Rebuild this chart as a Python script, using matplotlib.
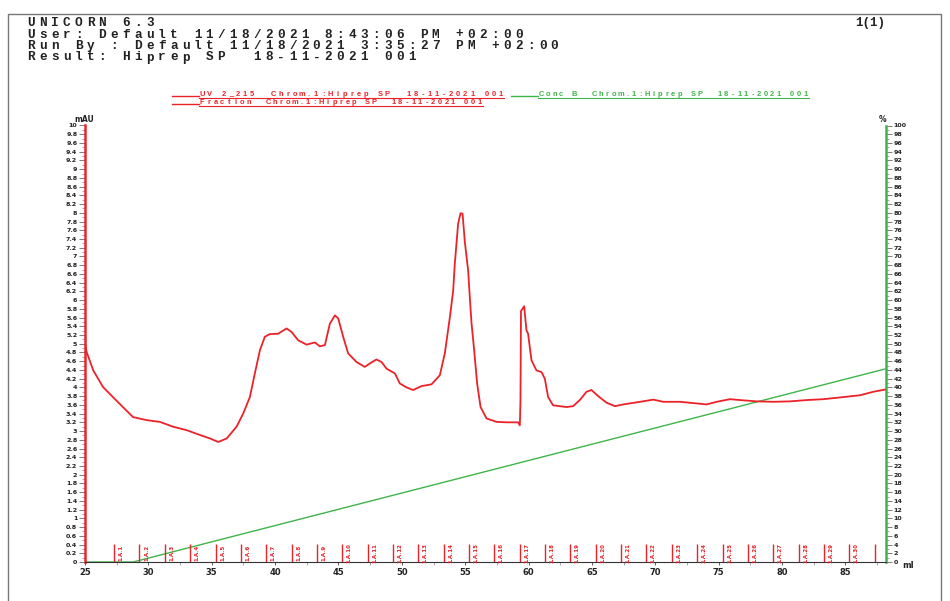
import numpy as np
import matplotlib.pyplot as plt
from matplotlib.ticker import MultipleLocator, FuncFormatter

plt.rcParams['font.weight'] = 'bold'

# UV 2_215 trace (ml, mAU)
uv_ml = [25.0, 25.13, 25.65, 26.42, 27.20, 27.99, 28.79, 29.87, 30.91, 31.94,
         33.02, 34.07, 34.86, 35.51, 36.18, 36.96, 37.48, 38.01, 38.40, 38.80,
         39.19, 39.58, 40.24, 40.91, 41.30, 41.82, 42.48, 43.14, 43.53, 43.93,
         44.32, 44.72, 44.98, 45.37, 45.76, 46.43, 47.08, 47.48, 48.00, 48.40,
         48.79, 49.45, 49.84, 50.37, 50.89, 51.55, 52.34, 53.00, 53.39, 53.79,
         54.05, 54.18, 54.44, 54.63, 54.79, 54.97, 55.23, 55.36, 55.50, 55.68,
         55.94, 56.21, 56.68, 57.47, 58.26, 59.17, 59.31, 59.36, 59.40, 59.52,
         59.65, 59.83, 59.96, 60.23, 60.62, 61.02, 61.28, 61.54, 61.93, 62.98,
         63.51, 64.04, 64.57, 64.96, 65.49, 66.15, 66.81, 67.47, 68.79, 69.84,
         70.63, 71.97, 72.99, 74.05, 74.84, 75.89, 76.68, 78.00, 79.31, 80.63,
         81.95, 83.26, 84.57, 86.15, 87.20, 88.12]
uv_mau = [5.01, 4.81, 4.39, 4.01, 3.78, 3.55, 3.32, 3.25, 3.21, 3.10,
          3.02, 2.91, 2.83, 2.75, 2.83, 3.10, 3.40, 3.78, 4.32, 4.85,
          5.16, 5.22, 5.23, 5.35, 5.27, 5.08, 4.98, 5.03, 4.94, 4.97,
          5.46, 5.65, 5.58, 5.16, 4.78, 4.58, 4.47, 4.55, 4.64, 4.58,
          4.43, 4.32, 4.09, 4.00, 3.94, 4.03, 4.07, 4.28, 4.78, 5.61,
          6.22, 6.84, 7.75, 7.99, 7.98, 7.33, 6.68, 6.07, 5.46, 4.93,
          4.09, 3.55, 3.29, 3.21, 3.20, 3.20, 3.13, 3.71, 5.75, 5.80,
          5.86, 5.31, 5.23, 4.62, 4.39, 4.35, 4.20, 3.78, 3.59, 3.55,
          3.57, 3.71, 3.90, 3.94, 3.80, 3.65, 3.57, 3.61, 3.67, 3.72,
          3.67, 3.67, 3.64, 3.61, 3.67, 3.73, 3.71, 3.68, 3.67, 3.68,
          3.71, 3.73, 3.77, 3.82, 3.90, 3.95]

# Conc B gradient (ml, %)
conc_ml = [25.0, 28.8, 88.1]
conc_b = [0.0, 0.0, 44.2]

# fraction boundaries (ml)
frac_ml = [27.3, 29.3, 31.3, 33.3, 35.3, 37.3, 39.3, 41.3, 43.3, 45.3,
           47.3, 49.3, 51.3, 53.3, 55.3, 57.3, 59.3, 61.3, 63.3, 65.3,
           67.3, 69.3, 71.3, 73.3, 75.3, 77.3, 79.3, 81.3, 83.3, 85.3, 87.3]
frac_labels = ['1.A.%d' % (i + 1) for i in range(len(frac_ml) - 1)]

header = ['UNICORN 6.3',
          'User: Default 11/18/2021 8:43:06 PM +02:00',
          'Run By : Default 11/18/2021 3:35:27 PM +02:00',
          'Result: Hiprep SP  18-11-2021 001']

RED = '#ec2228'
GREEN = '#3fb44a'
W, H = 950, 601

fig = plt.figure(figsize=(9.5, 6.01), dpi=100)
page = fig.add_axes([0, 0, 1, 1])
page.set_xlim(0, W)
page.set_ylim(H, 0)
page.axis('off')


def grid_text(x, y, s, pitch, **kw):
    # fixed pitch text, one character per cell
    for i, ch in enumerate(s):
        if ch != ' ':
            page.text(x + i * pitch + pitch / 2, y, ch, ha='center', va='center', **kw)


# page frame
page.plot([8, 8, 941, 941], [601, 14, 14, 601], color='#777777', lw=1)

for i, line in enumerate(header):
    grid_text(25, 23 + i * 11.5, line, 11.9, family='Liberation Mono',
              fontsize=9.2, color='#222222')
page.text(885, 23, '1(1)', ha='right', va='center', family='Liberation Mono',
          fontsize=9, color='#222222')

# legend
legend_rows = [(172, 94.5, 'UV 2_215  Chrom.1:Hiprep SP  18-11-2021 001', RED, 7.1),
               (172, 102.5, 'Fraction  Chrom.1:Hiprep SP  18-11-2021 001', RED, 6.6),
               (511, 94.5, 'Conc B  Chrom.1:Hiprep SP  18-11-2021 001', GREEN, 6.6)]
for x0, y0, txt, col, pitch in legend_rows:
    page.plot([x0, x0 + 27], [y0 + 1.5, y0 + 1.5], color=col, lw=1)
    grid_text(x0 + 27, y0, txt, pitch, family='Liberation Sans', fontsize=5.4, color=col)
    page.plot([x0 + 27, x0 + 27 + pitch * len(txt)], [y0 + 3.6, y0 + 3.6], color=col, lw=0.8)

# chromatogram
ax = fig.add_axes([85 / W, 1 - 562 / H, 801 / W, (562 - 125.5) / H])
ax2 = ax.twinx()
ax.set_zorder(2)
ax.patch.set_visible(False)

ax2.plot(conc_ml, conc_b, color=GREEN, lw=1.0)
ax2.set_ylim(0, 100)

ax.plot(uv_ml, uv_mau, color=RED, lw=1.3)
ax.vlines(frac_ml, 0, 0.42, color=RED, lw=1.0)
for a, b, lab in zip(frac_ml[:-1], frac_ml[1:], frac_labels):
    ax.text(a + 0.55, 0.2, lab, rotation=90, ha='center', va='center',
            fontsize=4.0, color=RED)
ax.set_xlim(25, 88.2)
ax.set_ylim(0, 10)

for s in ('top', 'right'):
    ax.spines[s].set_visible(False)
for s in ('top', 'left', 'bottom'):
    ax2.spines[s].set_visible(False)
ax.spines['left'].set_color(RED)
ax.spines['left'].set_linewidth(1.8)
ax.spines['bottom'].set_color('#333333')
ax2.spines['right'].set_color(GREEN)
ax2.spines['right'].set_linewidth(1.8)

fmt = FuncFormatter(lambda v, _: ('%.1f' % v).rstrip('0').rstrip('.'))
ax.yaxis.set_major_locator(MultipleLocator(0.2))
ax.yaxis.set_minor_locator(MultipleLocator(0.1))
ax.yaxis.set_major_formatter(fmt)
ax2.yaxis.set_major_locator(MultipleLocator(2))
ax2.yaxis.set_minor_locator(MultipleLocator(1))
ax.xaxis.set_major_locator(MultipleLocator(5))
ax.xaxis.set_minor_locator(MultipleLocator(2.5))

ax.tick_params(axis='y', which='major', length=4, width=0.6, color='#666666',
               labelsize=4.6, pad=1.5, labelcolor='#222222')
ax.tick_params(axis='y', which='minor', length=2, width=0.5, color='#888888')
ax2.tick_params(axis='y', which='major', length=4, width=0.6, color='#666666',
                labelsize=4.6, pad=1.5, labelcolor='#222222')
ax2.tick_params(axis='y', which='minor', length=2, width=0.5, color='#888888')
ax.tick_params(axis='x', which='major', length=2, width=0.6, color='#444444',
               labelsize=6, pad=2, labelcolor='#222222')
ax.tick_params(axis='x', which='minor', length=2, width=0.6, color='#999999')

page.text(84, 119, 'mAU', ha='center', va='center', fontsize=5.5, color='#222222')
page.text(883, 119, '%', ha='center', va='center', fontsize=5.5, color='#222222')
page.text(908, 565, 'ml', ha='center', va='center', fontsize=6, color='#222222')

fig.savefig('out.png', dpi=100)
